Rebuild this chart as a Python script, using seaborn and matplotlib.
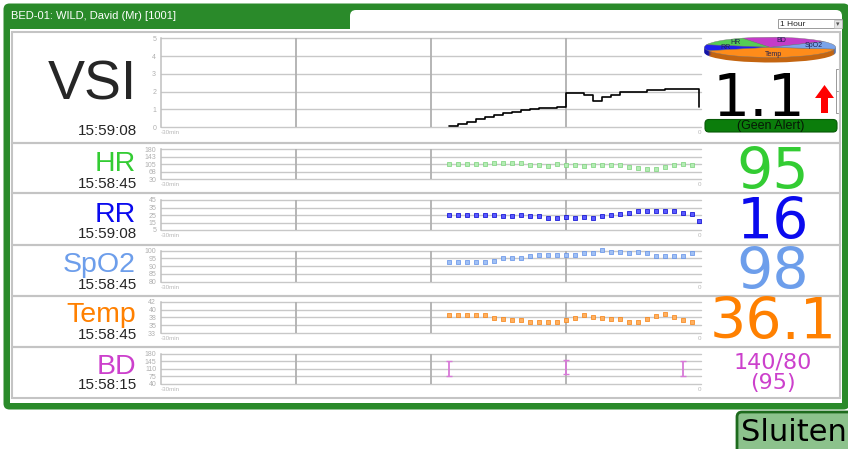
import numpy as np
import pandas as pd
import matplotlib
matplotlib.use("Agg")
import matplotlib.pyplot as plt
from matplotlib.patches import FancyBboxPatch, Rectangle, FancyArrow
import seaborn as sns

#------------------------------------------------------------------------
# data
times = [-14.0, -13.5, -13.0, -12.5, -12.0, -11.5, -11.0, -10.5, -10.0, -9.5,
         -9.0, -8.5, -8.0, -7.5, -7.0, -6.5, -6.0, -5.5, -5.0, -4.5,
         -4.0, -3.5, -3.0, -2.5, -2.0, -1.5, -1.0, -0.5]
last_time = -0.1

vsi_vals = [0.03, 0.17, 0.31, 0.46, 0.57, 0.69, 0.80, 0.87, 0.94, 1.00,
            1.07, 1.09, 1.13, 1.93, 1.93, 1.81, 1.48, 1.69, 1.78, 1.98,
            1.98, 1.98, 2.07, 2.09, 2.17, 2.17, 2.17, 2.17, 1.10]
hr_vals = [107, 107, 107, 107, 107, 113, 113, 112, 113, 103,
           103, 97, 107, 100, 102, 97, 102, 103, 103, 100,
           90, 88, 82, 83, 92, 102, 107, 100]
rr_vals = [25.4, 25.4, 25.4, 25.4, 25.4, 25.4, 23.2, 23.2, 24.6, 23.2,
           23.2, 21.0, 21.0, 22.3, 21.0, 22.3, 21.0, 23.2, 24.6, 26.8,
           27.7, 29.9, 30.8, 30.8, 29.9, 29.9, 27.7, 26.8, 16.6]
spo2_vals = [92.4, 92.4, 92.4, 92.4, 92.4, 93.5, 95.2, 95.2, 95.2, 96.3,
             97.2, 97.2, 97.2, 97.2, 97.2, 98.2, 98.2, 100.2, 99.3, 99.3,
             98.2, 99.3, 98.2, 96.3, 96.3, 96.3, 96.3, 98.2]
temp_vals = [38.1, 38.1, 38.1, 38.1, 38.1, 37.4, 36.9, 36.6, 36.8, 36.1,
             36.1, 36.1, 36.1, 36.6, 37.3, 38.1, 37.6, 37.4, 36.9, 37.0,
             36.2, 36.3, 37.0, 37.9, 38.4, 37.7, 36.7, 36.2]
bd_times = [-14.0, -7.5, -1.0]
bd_sys = [145, 150, 148]
bd_dia = [78, 85, 78]

row_names = ["VSI", "HR", "RR", "SpO2", "Temp", "BD"]
row_clock = ["15:59:08", "15:58:45", "15:59:08", "15:58:45", "15:58:45", "15:58:15"]
current = ["1.1", "95", "16", "98", "36.1", "140/80", "(95)"]

vsi_ticks = [0, 1, 2, 3, 4, 5]
hr_ticks = [30, 67.5, 105, 142.5, 180]
hr_labels = ["30", "68", "105", "143", "180"]
rr_ticks = [5, 15, 25, 35, 45]
spo2_ticks = [80, 85, 90, 95, 100]
temp_ticks = [33, 35.25, 37.5, 39.75, 42]
temp_labels = ["33", "35", "38", "40", "42"]
bd_ticks = [40, 75, 110, 145, 180]

pie_labels = ["BD", "HR", "RR", "Temp", "SpO2"]
pie_vals = [80, 50, 35, 150, 45]

#------------------------------------------------------------------------
sns.set_style("white")
plt.rcParams["font.family"] = ["Liberation Sans", "DejaVu Sans"]

W, H = 848, 449
fig = plt.figure(figsize=(W / 100, H / 100), dpi=100)

def px_axes(x0, y0, x1, y1):
    return fig.add_axes([x0 / W, 1 - y1 / H, (x1 - x0) / W, (y1 - y0) / H])

# background layer in pixel coordinates
bg = fig.add_axes([0, 0, 1, 1])
bg.set_xlim(0, W)
bg.set_ylim(H, 0)
bg.axis("off")

green = "#2a8a2a"
bg.add_patch(FancyBboxPatch((3.5, 3.5), 846, 406, boxstyle="round,pad=0,rounding_size=6",
                            fc=green, ec="none"))
bg.add_patch(Rectangle((10, 29), 832, 374, fc="white", ec="none"))
bg.add_patch(FancyBboxPatch((350, 10), 492, 40, boxstyle="round,pad=0,rounding_size=6",
                            fc="white", ec="none"))
bg.text(11, 19, "BED-01: WILD, David (Mr) [1001]", color="white", fontsize=8, va="baseline")

# "1 Hour" selector
bg.add_patch(Rectangle((778, 19), 64, 9, fc="white", ec="#8a8a8a", lw=0.6))
bg.add_patch(Rectangle((834, 19.5), 7.5, 8, fc="#e6e6e6", ec="#b0b0b0", lw=0.4))
bg.text(780, 26.5, "1 Hour", fontsize=6, va="baseline")
bg.text(838, 24, "▾", fontsize=5, ha="center", va="center", color="#555555",
        family="DejaVu Sans")

# row boxes
row_edges = [32, 142.5, 193, 244.5, 295.5, 346.5, 397.5]
for top, bot in zip(row_edges[:-1], row_edges[1:]):
    bg.add_patch(Rectangle((12, top), 828, bot - top, fill=False, ec="#c4c4c4", lw=1.5))

row_colors = ["black", "#33cc33", "#0a0aee", "#6d9eeb", "#ff8000", "#cc40cc"]
name_base = [100, 171, 222, 272, 322, 374]
clock_base = [135, 188, 238, 289, 339, 389]
for i, name in enumerate(row_names):
    if i == 0:
        bg.text(92, name_base[i], name, fontsize=40, ha="center", va="baseline")
    else:
        bg.text(136, name_base[i], name, fontsize=20.5, ha="right", va="baseline",
                color=row_colors[i])
    bg.text(137, clock_base[i], row_clock[i], fontsize=11, ha="right", va="baseline")

# current values on the right
big = dict(family="DejaVu Sans", ha="center", va="baseline")
bg.text(759, 116, current[0], fontsize=42, color="black", **big)
val_base = [189, 239, 289, 339]
for i in range(1, 5):
    bg.text(773, val_base[i - 1], current[i], fontsize=41, color=row_colors[i], **big)
bg.text(773, 369, current[5], fontsize=16, color=row_colors[5], **big)
bg.text(773, 389.5, current[6], fontsize=16, color=row_colors[5], **big)

# VSI trend arrow, bracket and alert box
bg.add_patch(FancyArrow(824.5, 113, 0, -28, width=7, head_width=19, head_length=13,
                        length_includes_head=True, fc="#ff0000", ec="none"))
bg.plot([838, 836, 836, 838], [69, 69, 113, 113], color="#999999", lw=0.7)
bg.plot([836, 838], [91, 91], color="#999999", lw=0.7)
bg.add_patch(FancyBboxPatch((705, 119.5), 132, 12.5, boxstyle="round,pad=0,rounding_size=4",
                            fc="#0b7d0b", ec="#075a07", lw=0.8))
bg.text(771, 126, "(Geen Alert)", fontsize=9, ha="center", va="center", color="#061806")

# Sluiten button
bg.add_patch(FancyBboxPatch((737, 412), 120, 45, boxstyle="round,pad=0,rounding_size=5",
                            fc="#8cc28c", ec="#1d6b1d", lw=2))
bg.text(741, 441, "Sluiten", fontsize=22, family="DejaVu Sans", va="baseline", color="black")

#------------------------------------------------------------------------
# trend charts
def style_chart(ax, ticks, labels, lo, hi):
    ax.set_xlim(-30, 0)
    ax.set_ylim(lo, hi)
    ax.set_facecolor("none")
    for s in ["top", "right", "bottom"]:
        ax.spines[s].set_visible(False)
    ax.spines["left"].set_color("#c0c0c0")
    ax.spines["left"].set_linewidth(1.1)
    for v in ticks:
        ax.axhline(v, color="#c8c8c8", lw=1.0, clip_on=False, zorder=0)
    for v in [-22.5, -15, -7.5]:
        ax.axvline(v, color="#b0b0b0", lw=1.3, zorder=0)
    ax.set_yticks(ticks)
    ax.set_yticklabels(labels, fontsize=5, color="#b0b0b0")
    ax.tick_params(axis="y", length=2.5, width=0.8, color="#c0c0c0", pad=1)
    ax.set_xticks([-30, 0])
    xl = ax.set_xticklabels(["-30min", "0"], fontsize=4.5, color="#b8b8b8")
    xl[0].set_ha("left")
    xl[1].set_ha("right")
    ax.tick_params(axis="x", length=0, pad=2.5)
    ax.set_xlabel("")
    ax.set_ylabel("")

# VSI step line
ax = px_axes(161, 38.3, 701, 127)
vsi_df = pd.DataFrame({"t": times + [last_time], "v": vsi_vals})
sns.lineplot(data=vsi_df, x="t", y="v", ax=ax, color="black", lw=1.2,
             drawstyle="steps-post", estimator=None)
style_chart(ax, vsi_ticks, [str(v) for v in vsi_ticks], 0, 5)

# vital sign dots
vitals = [
    (149.3, 179.0, times, hr_vals, hr_ticks, hr_labels, "#b4ecb4", "#7ad27a"),
    (200.0, 230.0, times + [last_time], rr_vals, rr_ticks, [str(v) for v in rr_ticks], "#5a5aff", "#0000d0"),
    (250.7, 281.7, times, spo2_vals, spo2_ticks, [str(v) for v in spo2_ticks], "#a0c0f4", "#5f8fe8"),
    (301.7, 333.0, times, temp_vals, temp_ticks, temp_labels, "#ffb060", "#f5800f"),
]
for y0, y1, tt, vals, ticks, labels, fc, ec in vitals:
    ax = px_axes(161, y0, 701, y1)
    sns.scatterplot(x=tt, y=vals, ax=ax, marker="s", s=5, color=fc, edgecolor=ec,
                    linewidth=0.5, clip_on=False, zorder=3)
    style_chart(ax, ticks, labels, ticks[0], ticks[-1])

# blood pressure ranges
ax = px_axes(161, 353.7, 701, 384)
bd_mid = [(s + d) / 2 for s, d in zip(bd_sys, bd_dia)]
bd_err = [(s - d) / 2 for s, d in zip(bd_sys, bd_dia)]
ax.errorbar(bd_times, bd_mid, yerr=bd_err, fmt="none", ecolor="#d878d8",
            elinewidth=1.3, capsize=2.2, capthick=1.0, zorder=3)
style_chart(ax, bd_ticks, [str(v) for v in bd_ticks], 40, 180)

#------------------------------------------------------------------------
# contribution pie, drawn flat with a thin side
pie_colors = ["#c43cc8", "#55cc55", "#2020ee", "#ff8c1a", "#7ba4ea"]
side_colors = ["#8a2a8c", "#3a8f3a", "#1414a8", "#c46510", "#5274b0"]
pax = px_axes(703, 37, 837, 63)
for off in [0.5, 0.4, 0.3, 0.2, 0.1]:
    pax.pie(pie_vals, colors=side_colors, startangle=35, center=(0, -off),
            wedgeprops=dict(linewidth=0))
wedges, texts = pax.pie(pie_vals, colors=pie_colors, labels=pie_labels, labeldistance=0.68,
                        startangle=35, textprops=dict(fontsize=5, color="#202050"),
                        wedgeprops=dict(linewidth=0.3, edgecolor="#777777"))
for t in texts:
    t.set_ha("center")
    t.set_va("center")
pax.set_aspect("auto")
pax.set_xlim(-1.02, 1.02)
pax.set_ylim(-1.55, 1.02)
pax.axis("off")

fig.savefig("out.png", dpi=100)
